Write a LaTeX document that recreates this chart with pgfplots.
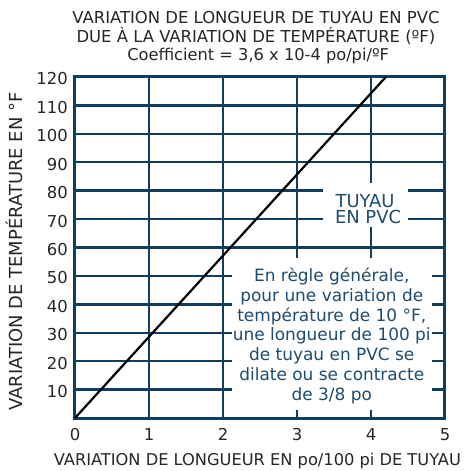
\documentclass[border=0pt]{standalone}
\usepackage{pgfplots}
\pgfplotsset{compat=1.18}
\usetikzlibrary{calc}
\usepackage{fontspec}
\setmainfont{DejaVu Sans}
\definecolor{gridnavy}{RGB}{16,62,96}
\definecolor{textnavy}{RGB}{30,76,112}
\begin{document}
\begin{tikzpicture}
\begin{axis}[
  name=ax,
  scale only axis,
  width=370bp, height=341bp,
  xmin=0, xmax=5, ymin=0, ymax=120,
  xtick={0,1,2,3,4,5},
  ytick={10,20,30,40,50,60,70,80,90,100,110,120},
  major tick length=0pt,
  grid=major,
  major grid style={draw=gridnavy, line width=2.4bp},
  axis line style={draw=gridnavy, line width=3bp},
  /pgf/number format/assume math mode=true,
  ticklabel style={font=\fontsize{16.5}{18}\selectfont, text=black!85, inner sep=0pt},
  xticklabel style={anchor=base, yshift=-22bp},
  yticklabel style={anchor=east, xshift=-7bp, yshift=-2bp},
  xlabel={VARIATION DE LONGUEUR EN po/100 pi DE TUYAU},
  ylabel={VARIATION DE TEMPÉRATURE EN °F},
  xlabel style={font=\fontsize{16.3}{18}\selectfont, text=black!85, inner sep=0pt,
    at={($(rel axis cs:0.493,0)+(0,-47bp)$)}, anchor=base},
  ylabel style={font=\fontsize{18}{20}\selectfont, text=black!85, inner sep=0pt,
    at={($(rel axis cs:0,0.488)+(-52.3bp,0)$)}, anchor=base, rotate=0},
  clip=false,
]
\fill[white] (axis cs:2.12,2.8) rectangle (axis cs:4.82,56.3);
\fill[white] (axis cs:3.35,67.2) rectangle (axis cs:4.5,82.7);
\addplot[black, line width=2.2bp] coordinates {(0,0) (4.2,120)};
\node[align=center, text=textnavy, inner sep=0pt, font=\fontsize{17}{19.9}\selectfont] at (axis cs:3.47,28.9)
  {En règle générale,\\pour une variation de\\température de 10 °F,\\une longueur de 100 pi\\de tuyau en PVC se\\dilate ou se contracte\\de 3/8 po};
\node[anchor=base, text=textnavy, inner sep=0pt, font=\fontsize{18}{20}\selectfont] at (axis cs:3.92,74.1) {TUYAU};
\node[anchor=base, text=textnavy, inner sep=0pt, font=\fontsize{18}{20}\selectfont] at (axis cs:3.96,68.3) {EN PVC};
\node[anchor=base, inner sep=0pt, text=black!85, font=\fontsize{16.5}{18}\selectfont] at ($(rel axis cs:0.489,1)+(0,53.7bp)$) {VARIATION DE LONGUEUR DE TUYAU EN PVC};
\node[anchor=base, inner sep=0pt, text=black!85, font=\fontsize{16.5}{18}\selectfont] at ($(rel axis cs:0.489,1)+(0,34.7bp)$) {DUE À LA VARIATION DE TEMPÉRATURE (ºF)};
\node[anchor=base, inner sep=0pt, text=black!85, font=\fontsize{16.3}{18}\selectfont] at ($(rel axis cs:0.495,1)+(0,16bp)$) {Coefficient = 3,6 x 10-4 po/pi/ºF};
\end{axis}
\pgfresetboundingbox
\path[use as bounding box] ([shift={(-75bp,-53bp)}]ax.south west) rectangle ([shift={(25bp,77bp)}]ax.north east);
\end{tikzpicture}
\end{document}
